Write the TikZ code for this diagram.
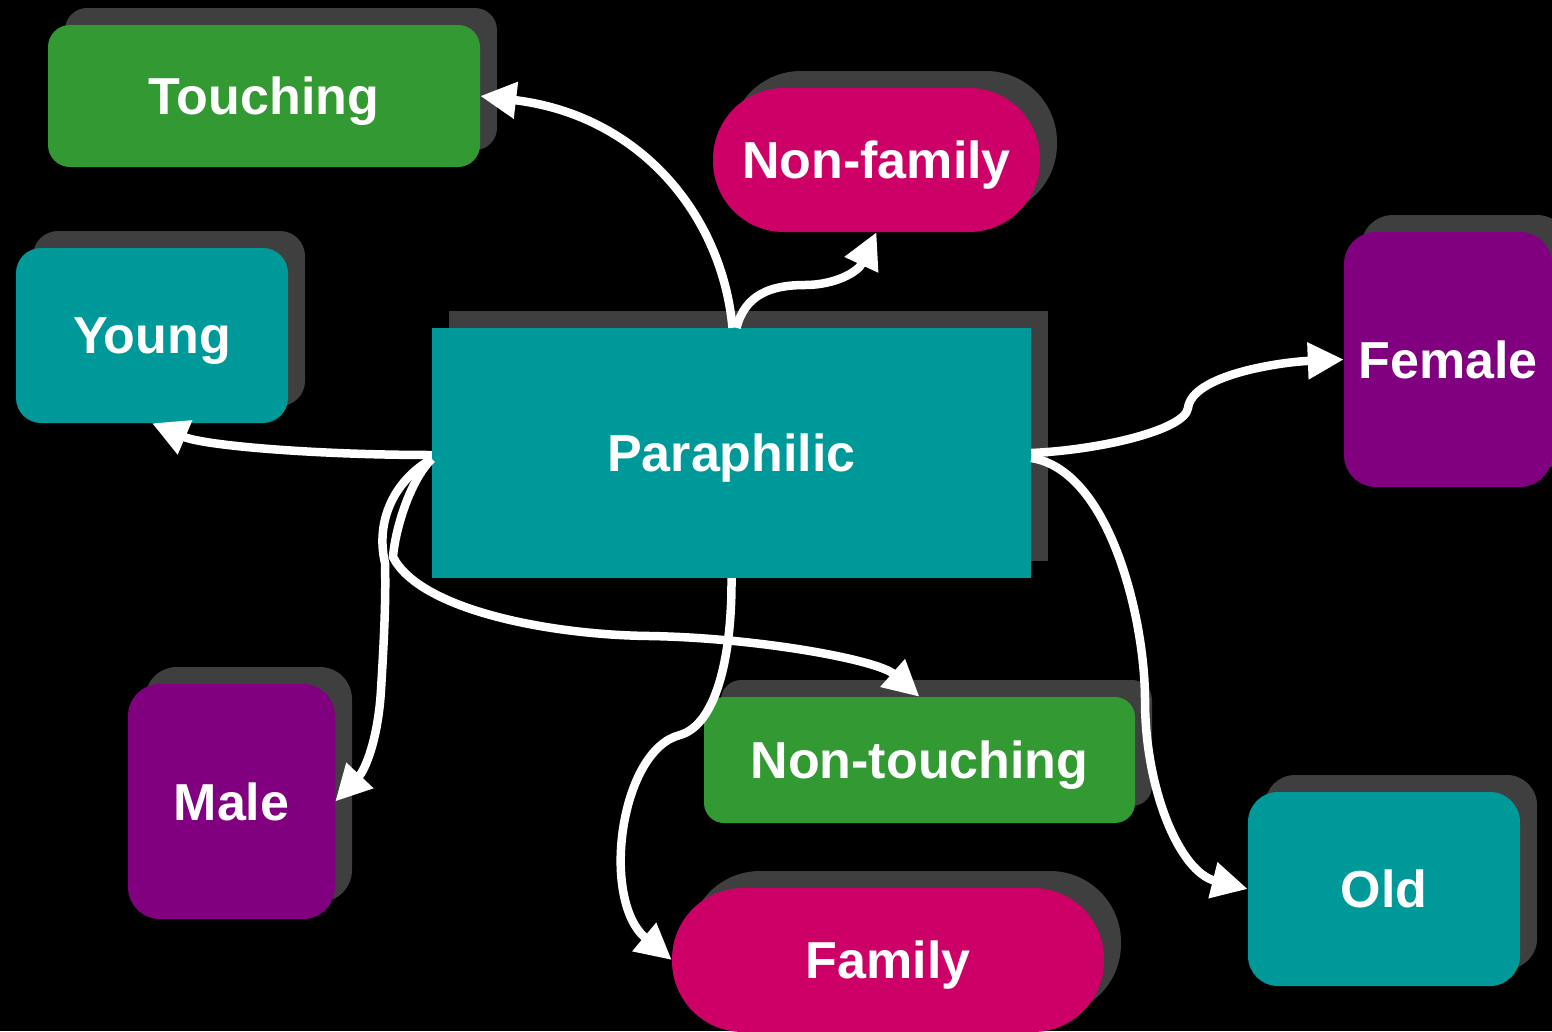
\documentclass[tikz,border=0pt]{standalone}
\usepackage{fontspec}
\setmainfont{Liberation Sans}
\usetikzlibrary{arrows.meta,shadows}
\definecolor{cgreen}{HTML}{339933}
\definecolor{cmag}{HTML}{CC0066}
\definecolor{cteal}{HTML}{009999}
\definecolor{cpurp}{HTML}{800080}
\definecolor{shd}{HTML}{3F3F3F}
\begin{document}
\begin{tikzpicture}[x=1pt,y=-1pt,
  box/.style={rectangle, inner sep=0pt, text=white, text depth=0pt,
    font=\fontsize{52}{60}\selectfont\bfseries,
    general shadow={fill=shd, shadow xshift=17pt, shadow yshift=17pt}},
  conn/.style={white, line width=8.5pt, -{Triangle[length=36pt,width=35pt]}}]
\useasboundingbox (0,0) rectangle (1552,1031);
\clip (0,0) rectangle (1552,1031);
\fill[black] (0,0) rectangle (1552,1031);

\node[box, fill=cgreen, rounded corners=22pt, minimum width=432pt, minimum height=142pt] (touch) at (264,96) {Touching};
\node[box, fill=cmag, rounded corners=71pt, minimum width=327pt, minimum height=144pt] (nonfam) at (876.5,160) {Non-family};
\node[box, fill=cteal, rounded corners=25pt, minimum width=272pt, minimum height=175pt] (young) at (152,335.5) {Young};
\node[box, fill=cteal, minimum width=599pt, minimum height=250pt] (para) at (731.5,453) {Paraphilic};
\node[box, fill=cpurp, rounded corners=32pt, minimum width=208pt, minimum height=255pt] (female) at (1448,359.5) {Female};
\node[box, fill=cpurp, rounded corners=32pt, minimum width=207pt, minimum height=235pt] (male) at (231.5,801.5) {Male};
\node[box, fill=cgreen, rounded corners=20pt, minimum width=431pt, minimum height=126pt] (nontouch) at (919.5,760) {Non-touching};
\node[box, fill=cmag, rounded corners=71pt, minimum width=432pt, minimum height=144pt] (family) at (888,960) {Family};
\node[box, fill=cteal, rounded corners=30pt, minimum width=272pt, minimum height=194pt] (old) at (1384,889) {Old};

% connectors
\draw[conn] ([xshift=1pt]para.north) .. controls (722,215) and (640,115) .. (touch.east);
\draw[conn] ([xshift=5pt]para.north) .. controls (745,295) and (770,285) .. (805,285)
   .. controls (835,285) and (858,272) .. (nonfam.south);
\draw[conn] ([yshift=-2pt]para.west) .. controls (320,455) and (205,446) .. (young.south);
\draw[conn] ([yshift=-6pt]para.west) .. controls (395,480) and (375,520) .. (385,563)
   .. controls (386,600) and (384,640) .. (381,690)
   .. controls (378,740) and (365,770) .. (male.east);
\draw[conn] ([yshift=-6pt]para.west) .. controls (410,480) and (395,530) .. (393,557)
   .. controls (420,610) and (550,635) .. (650,636)
   .. controls (760,638) and (878,660) .. (nontouch.north);
\draw[conn] (para.south) .. controls (732,660) and (715,725) .. (680,735)
   .. controls (620,750) and (600,900) .. (family.west);
\draw[conn] (para.east) .. controls (1100,450) and (1185,430) .. (1188,408)
   .. controls (1192,375) and (1280,362) .. (female.west);
\draw[conn] ([yshift=-5pt]para.east) .. controls (1110,470) and (1145,620) .. (1145,700)
   .. controls (1145,790) and (1180,872) .. (old.west);
\end{tikzpicture}
\end{document}
